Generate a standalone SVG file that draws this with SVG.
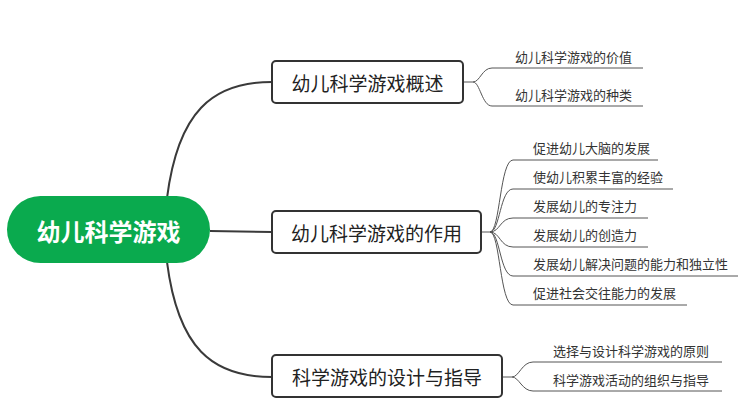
<svg xmlns="http://www.w3.org/2000/svg" width="756" height="420" viewBox="0 0 756 420">
<style>
.box{fill:#fff;stroke:#333;stroke-width:2}
.main{font-family:"Noto Sans CJK SC","Liberation Sans",sans-serif;font-size:19px;fill:#222;text-anchor:middle;dominant-baseline:central}
.leaf{font-family:"Noto Sans CJK SC","Liberation Sans",sans-serif;font-size:13px;fill:#333}
.c1{fill:none;stroke:#3a3a3a;stroke-width:2}
.c2{fill:none;stroke:#555;stroke-width:1}
</style>
<rect width="756" height="420" fill="#fff"/>
<g id="connectors">
<path class="c1" d="M167,198 C178,112 212,82 272,82"/>
<path class="c1" d="M210,231 L272,232"/>
<path class="c1" d="M167,262 C178,348 212,377 272,377"/>
<path class="c2" d="M463,82 L473,82 C480,82 482,68 492,68 L643,68"/>
<path class="c2" d="M473,82 C480,82 482,106 492,106 L643,106"/>
<path class="c2" d="M481,232 L490,232 C500,232 500,160 513,160 L658,160"/>
<path class="c2" d="M490,232 C500,232 500,189 513,189 L673,189"/>
<path class="c2" d="M490,232 C500,232 500,218 513,218 L648,218"/>
<path class="c2" d="M490,232 C500,232 500,247 513,247 L648,247"/>
<path class="c2" d="M490,232 C500,232 500,276 513,276 L738,276"/>
<path class="c2" d="M490,232 C500,232 500,305 513,305 L687,305"/>
<path class="c2" d="M502,377 L512,377 C519,377 522,362 533,362 L722,362"/>
<path class="c2" d="M512,377 C519,377 522,391 533,391 L722,391"/>
</g>
<g id="root">
<rect x="7" y="196" width="203" height="67" rx="33.5" fill="#0aaa4e"/>
<text x="108.5" y="230" font-family="'Noto Sans CJK SC','Liberation Sans',sans-serif" font-size="24" font-weight="bold" fill="#fff" text-anchor="middle" dominant-baseline="central">幼儿科学游戏</text>
</g>
<g id="n1">
<rect class="box" x="272" y="61" width="191" height="42" rx="4"/>
<text class="main" x="367.5" y="82">幼儿科学游戏概述</text>
</g>
<g id="n2">
<rect class="box" x="272" y="211" width="209" height="42" rx="4"/>
<text class="main" x="376.5" y="232">幼儿科学游戏的作用</text>
</g>
<g id="n3">
<rect class="box" x="272" y="355" width="230" height="42" rx="4"/>
<text class="main" x="387" y="376">科学游戏的设计与指导</text>
</g>
<g id="n1a"><text class="leaf" x="515" y="62">幼儿科学游戏的价值</text></g>
<g id="n1b"><text class="leaf" x="515" y="100">幼儿科学游戏的种类</text></g>
<g id="n2a"><text class="leaf" x="533" y="153">促进幼儿大脑的发展</text></g>
<g id="n2b"><text class="leaf" x="533" y="182">使幼儿积累丰富的经验</text></g>
<g id="n2c"><text class="leaf" x="533" y="211">发展幼儿的专注力</text></g>
<g id="n2d"><text class="leaf" x="533" y="240">发展幼儿的创造力</text></g>
<g id="n2e"><text class="leaf" x="533" y="269">发展幼儿解决问题的能力和独立性</text></g>
<g id="n2f"><text class="leaf" x="533" y="298">促进社会交往能力的发展</text></g>
<g id="n3a"><text class="leaf" x="553" y="356">选择与设计科学游戏的原则</text></g>
<g id="n3b"><text class="leaf" x="553" y="385">科学游戏活动的组织与指导</text></g>
</svg>
